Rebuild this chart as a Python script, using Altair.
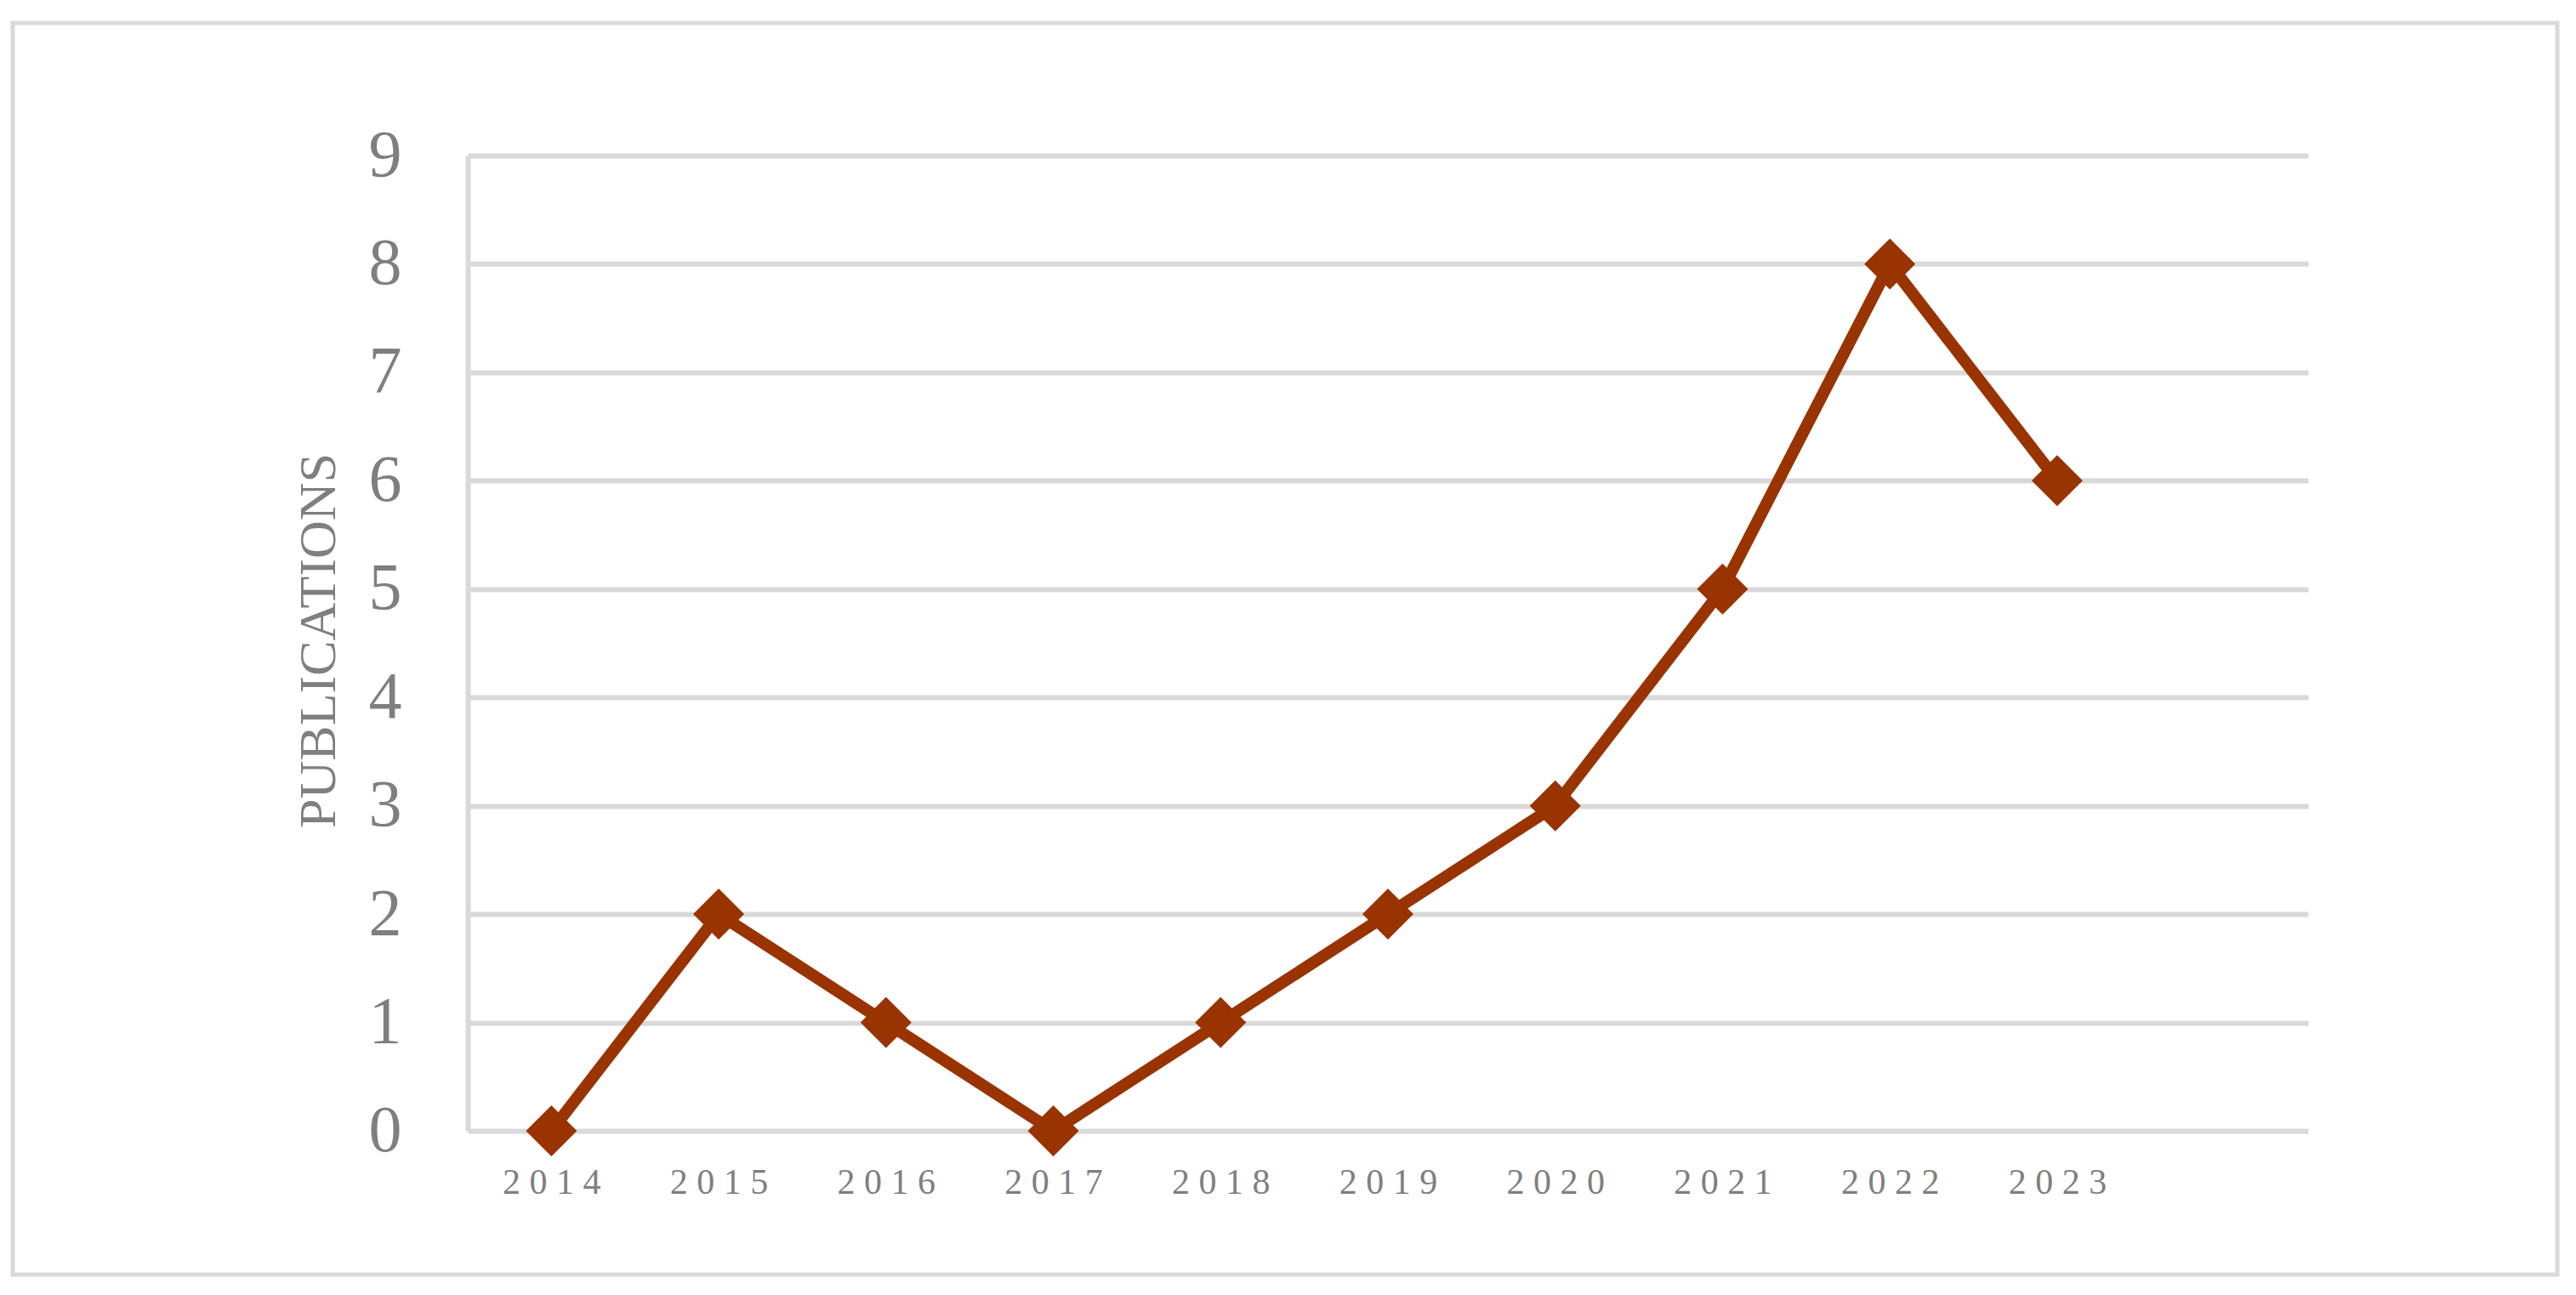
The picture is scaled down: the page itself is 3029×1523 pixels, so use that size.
import altair as alt
import pandas as pd

years = [2014, 2015, 2016, 2017, 2018, 2019, 2020, 2021, 2022, 2023]
publications = [0, 2, 1, 0, 1, 2, 3, 5, 8, 6]
y_ticks = [0, 1, 2, 3, 4, 5, 6, 7, 8, 9]

df = pd.DataFrame({"year": years, "pubs": publications})

GRAY_TXT = "#7f7f7f"
GRID = "#d9d9d9"
LINE = "#993300"
FONT = "Liberation Serif"

W, H = 2164, 1147

base = alt.Chart(df).encode(
    x=alt.X(
        "year:Q",
        scale=alt.Scale(domain=[2013.5, 2024.5], nice=False, zero=False),
        axis=alt.Axis(
            values=years,
            format="d",
            labelExpr="join(split(datum.label, ''), ' ')",
            grid=False,
            domain=False,
            ticks=False,
            labelPadding=40,
            labelFont=FONT,
            labelFontSize=42,
            labelColor=GRAY_TXT,
            labelBaseline="top",
            title=None,
        ),
    ),
    y=alt.Y(
        "pubs:Q",
        scale=alt.Scale(domain=[0, 9], nice=False),
        axis=alt.Axis(
            values=y_ticks,
            grid=True,
            gridColor=GRID,
            gridWidth=6,
            domain=True,
            domainColor=GRID,
            domainWidth=6,
            ticks=False,
            labelPadding=78,
            labelFont=FONT,
            labelFontSize=78,
            labelColor=GRAY_TXT,
            title="PUBLICATIONS",
            titleFont=FONT,
            titleFontSize=62,
            titleFontWeight="normal",
            titleColor=GRAY_TXT,
            titleAngle=270,
            titleX=-157,
            titleY=570,
            titleAlign="center",
            titleBaseline="alphabetic",
        ),
    ),
)

line = base.mark_line(color=LINE, strokeWidth=14)
points = base.mark_point(shape="diamond", filled=True, color=LINE, size=3600, opacity=1)

frame = alt.Chart(pd.DataFrame({"a": [0]})).mark_rect(
    fillOpacity=0, stroke=GRID, strokeWidth=5
).encode(
    x=alt.value(-535), x2=alt.value(2457), y=alt.value(-156), y2=alt.value(1316)
)

chart = alt.layer(frame, line, points).properties(
    width=W,
    height=H,
    padding={"left": 542, "top": 175, "right": 300, "bottom": 180},
    autosize=alt.AutoSizeParams(type="none"),
    background="white",
).configure_view(stroke=None)

chart.save("out.html", embed_options={"renderer": "svg", "actions": False})
